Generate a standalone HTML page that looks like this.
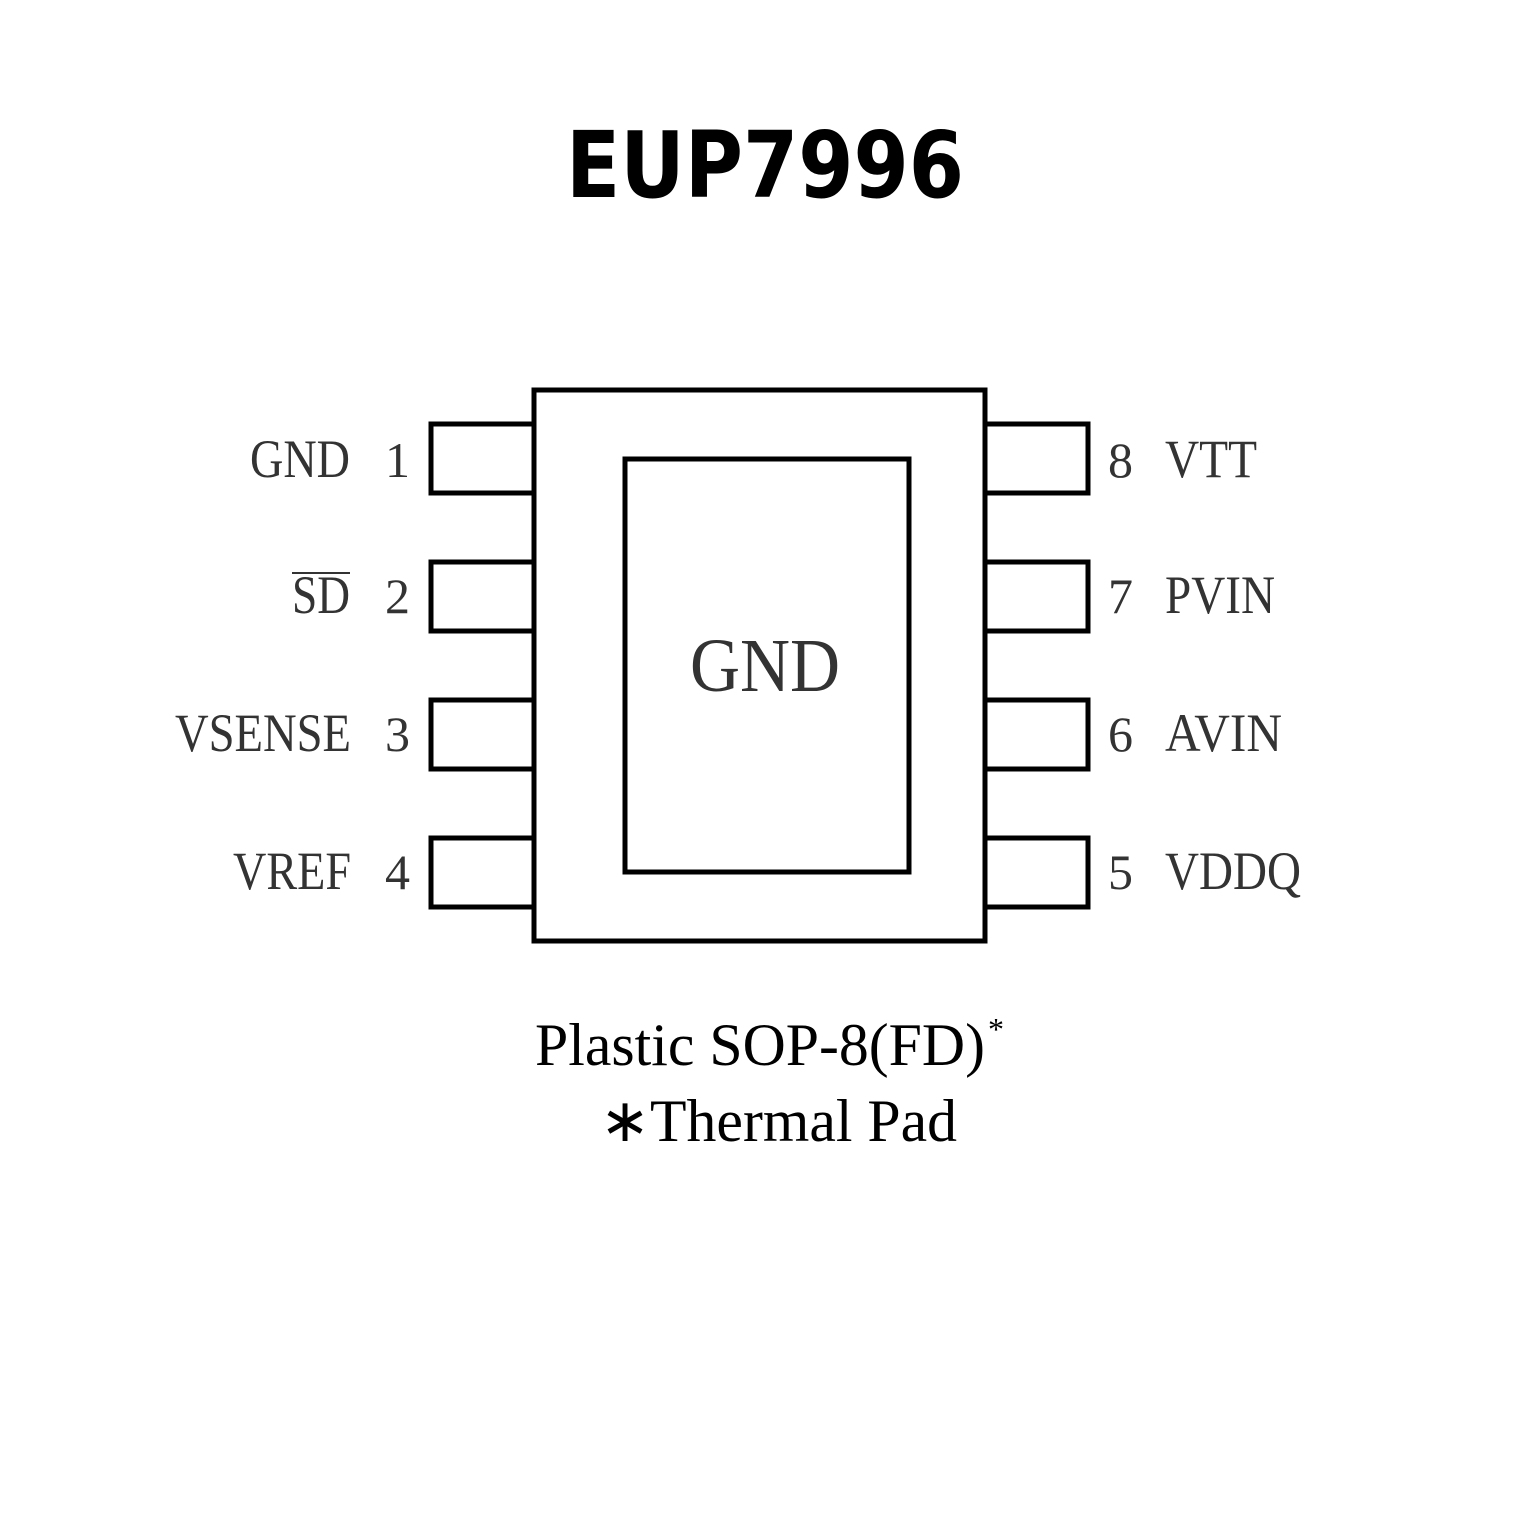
<!DOCTYPE html>
<html><head><style>html,body{margin:0;padding:0;background:#fff}</style></head>
<body>
<svg width="1535" height="1535" viewBox="0 0 1535 1535" xmlns="http://www.w3.org/2000/svg">
<rect width="1535" height="1535" fill="#fff"/>
<text x="765" y="197" text-anchor="middle" font-family="DejaVu Sans, Liberation Sans, sans-serif" font-weight="bold" font-size="92" textLength="398" lengthAdjust="spacingAndGlyphs" fill="#000">EUP7996</text>
<g fill="#fff" stroke="#000" stroke-width="5">
<rect x="534" y="390" width="451" height="551"/>
<rect x="625" y="459" width="284" height="413"/>
<rect x="431" y="424" width="103" height="69"/>
<rect x="431" y="562" width="103" height="69"/>
<rect x="431" y="700" width="103" height="69"/>
<rect x="431" y="838" width="103" height="69"/>
<rect x="985" y="424" width="103" height="69"/>
<rect x="985" y="562" width="103" height="69"/>
<rect x="985" y="700" width="103" height="69"/>
<rect x="985" y="838" width="103" height="69"/>
</g>
<g font-family="Liberation Serif, serif" font-size="54" fill="#333">
<text x="250" y="477" textLength="100" lengthAdjust="spacingAndGlyphs">GND</text>
<text x="385" y="477" font-size="50">1</text>
<text x="292" y="613" textLength="58" lengthAdjust="spacingAndGlyphs">SD</text>
<line x1="292" y1="573" x2="350" y2="573" stroke="#333" stroke-width="2"/>
<text x="385" y="613" font-size="50">2</text>
<text x="175" y="751" textLength="176" lengthAdjust="spacingAndGlyphs">VSENSE</text>
<text x="385" y="751" font-size="50">3</text>
<text x="233" y="889" textLength="118" lengthAdjust="spacingAndGlyphs">VREF</text>
<text x="385" y="889" font-size="50">4</text>
<text x="1108" y="477" font-size="50">8</text>
<text x="1165" y="477" textLength="92" lengthAdjust="spacingAndGlyphs">VTT</text>
<text x="1108" y="613" font-size="50">7</text>
<text x="1165" y="613" textLength="110" lengthAdjust="spacingAndGlyphs">PVIN</text>
<text x="1108" y="751" font-size="50">6</text>
<text x="1165" y="751" textLength="117" lengthAdjust="spacingAndGlyphs">AVIN</text>
<text x="1108" y="889" font-size="50">5</text>
<text x="1165" y="889" textLength="136" lengthAdjust="spacingAndGlyphs">VDDQ</text>
<text x="690" y="691" font-size="76" textLength="150" lengthAdjust="spacingAndGlyphs">GND</text>
</g>
<g font-family="Liberation Serif, serif" font-size="60" fill="#000">
<text x="535" y="1065" textLength="450" lengthAdjust="spacingAndGlyphs">Plastic SOP-8(FD)</text>
<text x="988" y="1040" font-size="32">*</text>
<text x="600" y="1141" textLength="357" lengthAdjust="spacingAndGlyphs">∗Thermal Pad</text>
</g>
</svg>
</body></html>
